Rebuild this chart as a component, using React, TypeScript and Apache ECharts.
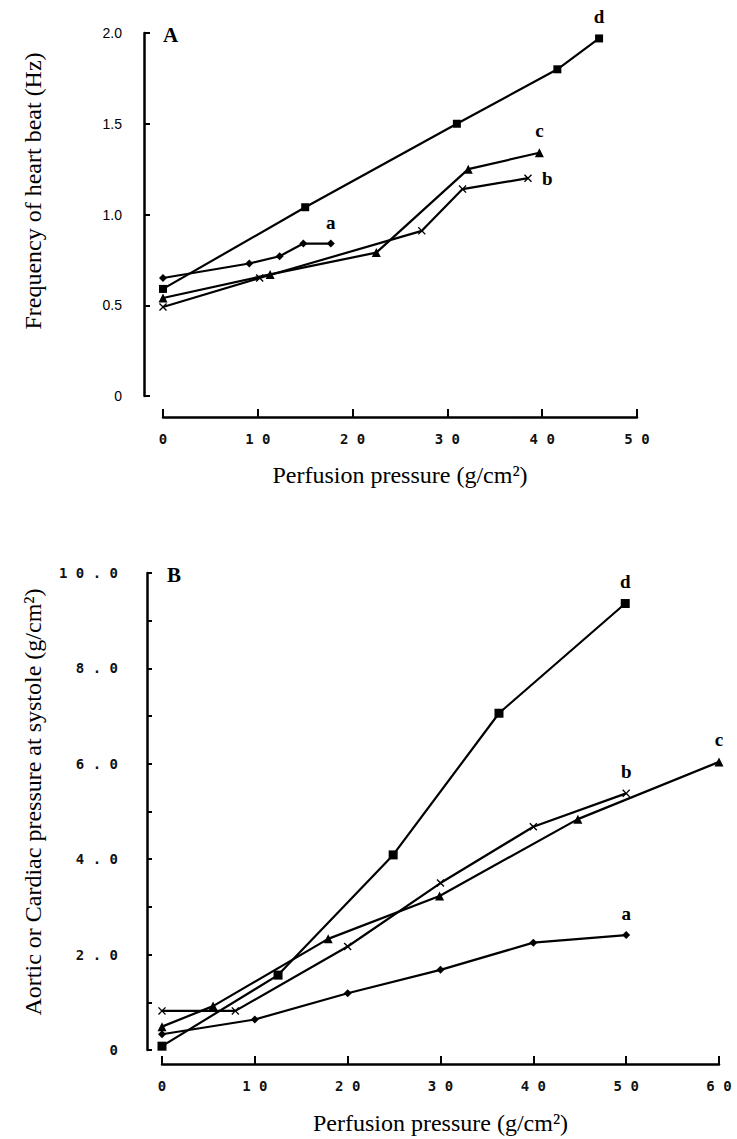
import React, { useEffect, useRef } from "react";
import * as echarts from "echarts";

// ---------- Panel A: frequency of heart beat (Hz) vs perfusion pressure ----------
const A_a_x = [0, 9.1, 12.3, 14.8, 17.7];
const A_a_y = [0.65, 0.73, 0.77, 0.84, 0.84];
const A_b_x = [0, 10.2, 27.3, 31.6, 38.5];
const A_b_y = [0.49, 0.65, 0.91, 1.14, 1.2];
const A_c_x = [0, 11.3, 22.5, 32.2, 39.7];
const A_c_y = [0.54, 0.67, 0.79, 1.25, 1.34];
const A_d_x = [0, 15.0, 31.0, 41.6, 46.0];
const A_d_y = [0.59, 1.04, 1.5, 1.8, 1.97];

// ---------- Panel B: aortic or cardiac pressure at systole vs perfusion pressure ----------
const B_a_x = [0, 10, 20, 30, 40, 50];
const B_a_y = [0.33, 0.64, 1.19, 1.68, 2.25, 2.41];
const B_b_x = [0, 7.9, 20, 30, 40, 50];
const B_b_y = [0.82, 0.82, 2.17, 3.5, 4.68, 5.38];
const B_c_x = [0, 5.5, 17.9, 29.9, 44.8, 60];
const B_c_y = [0.49, 0.92, 2.33, 3.23, 4.84, 6.04];
const B_d_x = [0, 12.5, 24.9, 36.3, 49.9];
const B_d_y = [0.08, 1.57, 4.09, 7.06, 9.36];

const SERIES_NAMES = ["a", "b", "c", "d"];
const X_TITLE = "Perfusion pressure (g/cm\u00B2)";
const A_Y_TITLE = "Frequency of heart beat (Hz)";
const B_Y_TITLE = "Aortic or Cardiac pressure at systole (g/cm\u00B2)";

const CROSS =
  "path://M0,1.2L1.2,0L5,3.8L8.8,0L10,1.2L6.2,5L10,8.8L8.8,10L5,6.2L1.2,10L0,8.8L3.8,5Z";

const SERIF = "'Liberation Serif', 'Times New Roman', serif";
const SANS = "'Liberation Sans', Arial, sans-serif";
const MONO = "'DejaVu Sans Mono', monospace";

const spaced = (v: number) => String(v).split("").join(" ");

function mk(
  name: string,
  xs: number[],
  ys: number[],
  symbol: string,
  size: number,
  idx: number,
  labelPos: string,
  labelDist: number
) {
  return {
    type: "line",
    name,
    xAxisIndex: idx,
    yAxisIndex: idx,
    data: xs.map((x, i) => [x, ys[i]]),
    symbol,
    symbolSize: size,
    showAllSymbol: true,
    clip: false,
    lineStyle: { color: "#000", width: 2.2 },
    itemStyle: { color: "#000", borderWidth: 0 },
    label: {
      show: true,
      position: labelPos,
      distance: labelDist,
      formatter: (p: any) => (p.dataIndex === xs.length - 1 ? name : ""),
      fontFamily: SERIF,
      fontWeight: "bold",
      fontSize: 19,
      color: "#000",
    },
    emphasis: { disabled: true },
  };
}

const axisLine = { show: true, onZero: false, lineStyle: { color: "#000", width: 2.5 } };
const axisTick = { show: true, inside: true, length: 6, lineStyle: { color: "#000", width: 2 } };
const monoLabel = {
  fontFamily: MONO,
  fontSize: 14,
  fontWeight: "bold",
  color: "#111",
};

export default function App() {
  const ref = useRef<HTMLDivElement>(null);
  useEffect(() => {
    if (!ref.current) return;
    const chart = echarts.init(ref.current, null, { renderer: "svg" });
    chart.setOption({
      animation: false,
      backgroundColor: "#fff",
      grid: [
        { left: 163, top: 33, width: 474, height: 363 },
        { left: 162, top: 573, width: 557, height: 477 },
      ],
      xAxis: [
        {
          type: "value",
          gridIndex: 0,
          min: 0,
          max: 50,
          interval: 10,
          offset: 21,
          axisLine,
          axisTick: { ...axisTick, length: 8 },
          splitLine: { show: false },
          axisLabel: { ...monoLabel, formatter: (v: number) => spaced(v), margin: 15 },
          name: X_TITLE,
          nameLocation: "middle",
          nameGap: 46,
          nameTextStyle: { fontFamily: SERIF, fontSize: 24, color: "#000" },
        },
        {
          type: "value",
          gridIndex: 1,
          min: 0,
          max: 60,
          interval: 10,
          offset: 14,
          axisLine,
          axisTick: { ...axisTick, length: 8 },
          splitLine: { show: false },
          axisLabel: { ...monoLabel, formatter: (v: number) => spaced(v), margin: 15 },
          name: X_TITLE,
          nameLocation: "middle",
          nameGap: 47,
          nameTextStyle: { fontFamily: SERIF, fontSize: 24, color: "#000" },
        },
      ],
      yAxis: [
        {
          type: "value",
          gridIndex: 0,
          min: 0,
          max: 2,
          interval: 0.5,
          offset: 19,
          axisLine,
          axisTick,
          splitLine: { show: false },
          axisLabel: {
            formatter: (v: number) => (v === 0 ? "0" : v.toFixed(1)),
            fontFamily: SANS,
            fontSize: 14,
            color: "#000",
            margin: 22,
          },
        },
        {
          type: "value",
          gridIndex: 1,
          min: 0,
          max: 10,
          interval: 1,
          offset: 15,
          axisLine,
          axisTick: { ...axisTick, length: 5 },
          splitLine: { show: false },
          axisLabel: {
            ...monoLabel,
            formatter: (v: number) =>
              v === 0 ? "0" : v % 2 !== 0 ? "" : v.toFixed(1).split("").join(" "),
            margin: 29,
          },
        },
      ],
      graphic: [
        {
          type: "text",
          x: 33,
          y: 191,
          rotation: Math.PI / 2,
          style: {
            text: A_Y_TITLE,
            font: `24px ${SERIF}`,
            fill: "#000",
            textAlign: "center",
            textVerticalAlign: "middle",
          },
        },
        {
          type: "text",
          x: 33,
          y: 802,
          rotation: Math.PI / 2,
          style: {
            text: B_Y_TITLE,
            font: `24px ${SERIF}`,
            fill: "#000",
            textAlign: "center",
            textVerticalAlign: "middle",
          },
        },
        {
          type: "text",
          x: 163,
          y: 35,
          style: {
            text: "A",
            font: `bold 21px ${SERIF}`,
            fill: "#000",
            textAlign: "left",
            textVerticalAlign: "middle",
          },
        },
        {
          type: "text",
          x: 167,
          y: 575,
          style: {
            text: "B",
            font: `bold 21px ${SERIF}`,
            fill: "#000",
            textAlign: "left",
            textVerticalAlign: "middle",
          },
        },
      ],
      series: [
        mk(SERIES_NAMES[0], A_a_x, A_a_y, "diamond", 8, 0, "top", 8),
        mk(SERIES_NAMES[1], A_b_x, A_b_y, CROSS, 8, 0, "right", 10),
        mk(SERIES_NAMES[2], A_c_x, A_c_y, "triangle", 9, 0, "top", 8),
        mk(SERIES_NAMES[3], A_d_x, A_d_y, "rect", 8, 0, "top", 8),
        mk(SERIES_NAMES[0], B_a_x, B_a_y, "diamond", 8, 1, "top", 8),
        mk(SERIES_NAMES[1], B_b_x, B_b_y, CROSS, 8, 1, "top", 8),
        mk(SERIES_NAMES[2], B_c_x, B_c_y, "triangle", 9, 1, "top", 8),
        mk(SERIES_NAMES[3], B_d_x, B_d_y, "rect", 9, 1, "top", 8),
      ],
    });
    return () => chart.dispose();
  }, []);
  return (
    <div
      ref={ref}
      style={{ position: "absolute", left: 0, top: 0, width: 737, height: 1139, background: "#fff" }}
    />
  );
}
